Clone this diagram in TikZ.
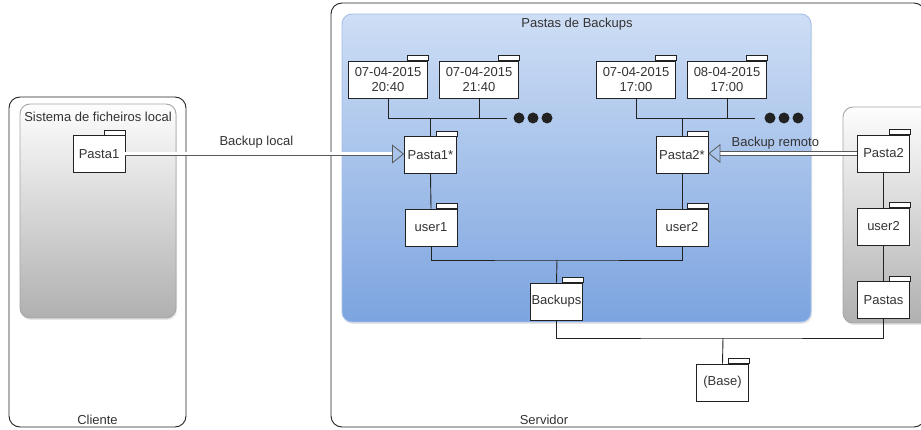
\documentclass[tikz,border=0pt]{standalone}
\usepackage{fontspec}
\setmainfont{Liberation Sans}
\usetikzlibrary{positioning, calc, arrows.meta, shadows}
\definecolor{testo}{HTML}{333333}
\definecolor{linea}{HTML}{222222}
\definecolor{bluchiaro}{RGB}{206,222,245}
\definecolor{bluscuro}{RGB}{124,164,223}
\definecolor{grigiochiaro}{RGB}{253,253,253}
\definecolor{grigioscuro}{RGB}{176,176,176}
\newcommand{\etich}{\fontsize{13}{15.5}\selectfont}

\begin{document}
\begin{tikzpicture}[x=1pt, y=-1pt, line width=0.9pt, draw=linea,
    contenitore/.style={draw=linea, rounded corners=11, inner sep=0pt},
    pannello/.style={draw=gray!70, rounded corners=10, inner sep=0pt,
        drop shadow={shadow xshift=1pt, shadow yshift=-2pt, opacity=0.2}},
    grigio/.style={pannello, top color=grigiochiaro, bottom color=grigioscuro},
    blu/.style={pannello, draw=bluscuro!70, top color=bluchiaro, bottom color=bluscuro},
    pkg/.style={draw=linea, fill=white, minimum width=52, minimum height=37, inner sep=1pt, font=\etich, text=testo},
    data/.style={pkg, minimum width=79, align=center},
    titolo/.style={font=\etich, text=testo},
    backup/.style={double=white, draw=black!65, double distance=3pt, line width=0.8pt,
        -{Triangle[open, length=12pt, width=19pt, line width=0.8pt]}}]
    \useasboundingbox (0,0) rectangle (921,430);
    \clip (0,0) rectangle (921,430);
    %disegno contenitori
    \node[contenitore, minimum width=177, minimum height=330] (cliente) at (97.5,262) {};
    \node[contenitore, minimum width=594, minimum height=424] (servidor) at (628,215) {};
    \node[grigio, minimum width=156, minimum height=214] (locale) at (98,211) {};
    \node[blu, minimum width=469, minimum height=308] (pastasbk) at (576.5,168) {};
    \node[grigio, minimum width=97, minimum height=216] (remoto) at (891.5,215) {};
    %titoli
    \node[titolo] (tlocale) at (98,117) {Sistema de ficheiros local};
    \node[titolo] (tpastasbk) at (577,24) {Pastas de Backups};
    \node[titolo] (tcliente) at (97.5,420) {Cliente};
    \node[titolo] (tservidor) at (544,420) {Servidor};
    %disegno cartelle
    \node[pkg] (pasta1) at (99,154) {Pasta1};
    \node[data] (d1) at (388,79.5) {07-04-2015\\20:40};
    \node[data] (d2) at (479,79.5) {07-04-2015\\21:40};
    \node[data] (d3) at (636,79.5) {07-04-2015\\17:00};
    \node[data] (d4) at (727,79.5) {08-04-2015\\17:00};
    \node[pkg] (pasta1s) at (430.5,155) {Pasta1*};
    \node[pkg] (pasta2s) at (682,155) {Pasta2*};
    \node[pkg] (user1) at (431,227.5) {user1};
    \node[pkg] (user2) at (682,227.5) {user2};
    \node[pkg] (backups) at (556.5,301.5) {Backups};
    \node[pkg] (base) at (722.5,382.5) {(Base)};
    \node[pkg] (pasta2r) at (883.5,153.5) {Pasta2};
    \node[pkg] (user2r) at (883.5,226.5) {user2};
    \node[pkg] (pastas) at (883.5,300) {Pastas};
    %linguette
    \foreach \n in {pasta1,d1,d2,d3,d4,pasta1s,pasta2s,user1,user2,backups,base,pasta2r,user2r,pastas}
        \draw[fill=white] (\n.north east) rectangle ++(-21,-5);
    %collegamenti
    \coordinate (puntiS) at (507,118);
    \coordinate (puntiD) at (755,118);
    \coordinate (nodoU) at (557,260);
    \coordinate (nodoB) at (723,338);
    \draw (d1.south) |- (puntiS);
    \draw (d2.south) -- (d2.south |- puntiS);
    \draw (pasta1s.north) -- (pasta1s.north |- puntiS);
    \draw (d3.south) |- (puntiD);
    \draw (d4.south) -- (d4.south |- puntiD);
    \draw (pasta2s.north) -- (pasta2s.north |- puntiD);
    \foreach \i in {12,26,40} \fill[linea] (puntiS) ++(\i,0) circle (5.5);
    \foreach \i in {15,29,43} \fill[linea] (puntiD) ++(\i,0) circle (5.5);
    \draw (pasta1s.south) -- (user1.north);
    \draw (pasta2s.south) -- (user2.north);
    \draw (user1.south) |- (nodoU) -| (user2.south);
    \draw (nodoU) -- (backups.north);
    \draw (backups.south) |- (nodoB) -| (pastas.south);
    \draw (nodoB) -- (base.north);
    \draw (pasta2r.south) -- (user2r.north);
    \draw (user2r.south) -- (pastas.north);
    %frecce di backup
    \draw[backup] (pasta1.east) -- (pasta1.east -| pasta1s.west)
        node[titolo, pos=0.47, above=2pt] (tlocal) {Backup local};
    \draw[backup] (pasta2r.west) -- (pasta2r.west -| pasta2s.east)
        node[titolo, pos=0.55, above=1pt] (tremoto) {Backup remoto};
\end{tikzpicture}
\end{document}
